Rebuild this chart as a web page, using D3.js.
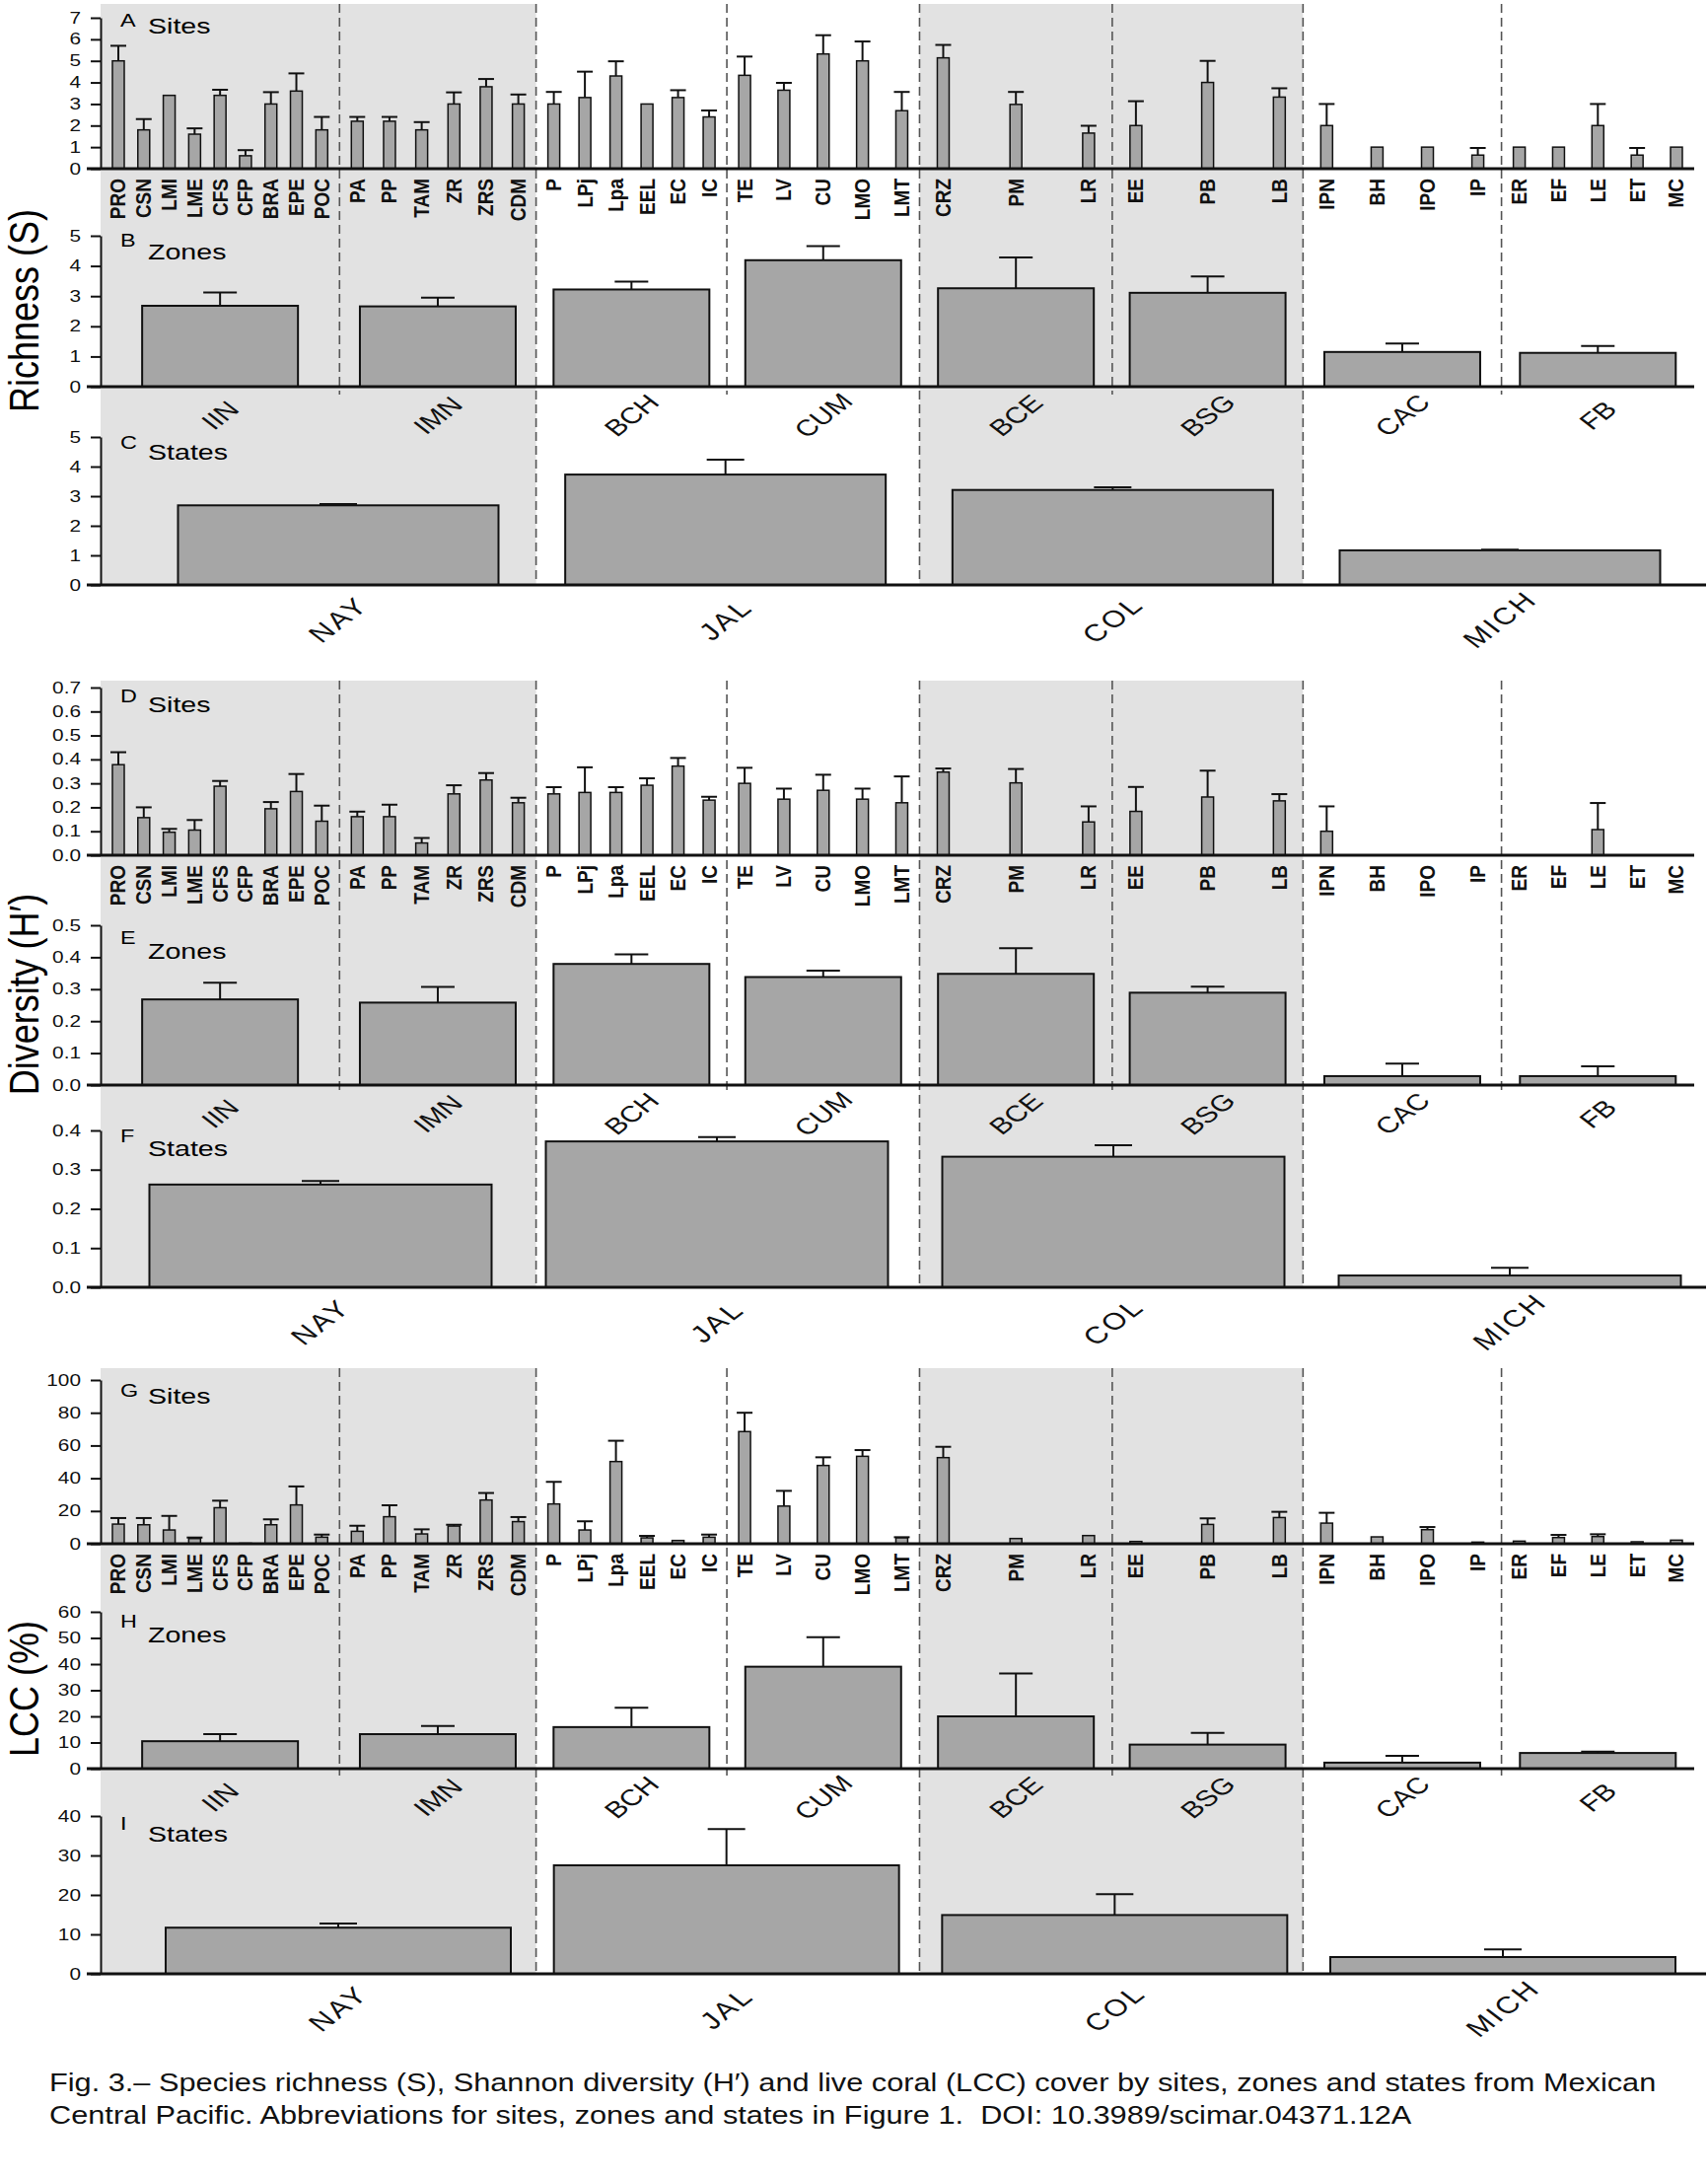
<!DOCTYPE html>
<html>
<head>
<script src="https://cdnjs.cloudflare.com/ajax/libs/d3/7.8.5/d3.min.js"></script>
<style>
  body { margin: 0; background: #fff; }
  svg { display: block; font-family: "Liberation Sans", Arial, sans-serif; }
  .shade { fill: #e2e2e2; }
  .sep { stroke: #555; stroke-width: 1.6; stroke-dasharray: 9,5; }
  .bar { fill: #a6a6a6; stroke: #111; }
  .err { stroke: #111; stroke-width: 2; }
  .base { stroke: #111; stroke-width: 3; }
  .yaxis path, .yaxis line { stroke: #111; stroke-width: 2; }
  .yaxis text {
    font-size: 16px; fill: #111; font-family: "Liberation Sans", Arial, sans-serif;
    transform-box: fill-box; transform-origin: 100% 50%; transform: scaleX(1.3);
  }
  .site-label { font-size: 19px; font-weight: bold; fill: #111; }
  .zone-label { font-size: 23px; fill: #111; }
  .state-label { font-size: 24px; fill: #111; letter-spacing: 2px; }
  .caption { font-size: 25px; fill: #111; white-space: pre; }
</style>
</head>
<body>
<svg width="1732" height="2209"></svg>
<script>
// ---- categories
const zones = ["IIN", "IMN", "BCH", "CUM", "BCE", "BSG", "CAC", "FB"];
const zoneState = ["NAY", "NAY", "JAL", "JAL", "COL", "COL", "MICH", "MICH"];
const states = ["NAY", "JAL", "COL", "MICH"];
const shadedStates = ["NAY", "COL"];

const sites = ["PRO", "CSN", "LMI", "LME", "CFS", "CFP", "BRA", "EPE", "POC",
  "PA", "PP", "TAM", "ZR", "ZRS", "CDM",
  "P", "LPj", "Lpa", "EEL", "EC", "IC",
  "TE", "LV", "CU", "LMO", "LMT",
  "CRZ", "PM", "LR",
  "EE", "PB", "LB",
  "IPN", "BH", "IPO", "IP",
  "ER", "EF", "LE", "ET", "MC"];
const siteZone = ["IIN", "IIN", "IIN", "IIN", "IIN", "IIN", "IIN", "IIN", "IIN",
  "IMN", "IMN", "IMN", "IMN", "IMN", "IMN",
  "BCH", "BCH", "BCH", "BCH", "BCH", "BCH",
  "CUM", "CUM", "CUM", "CUM", "CUM",
  "BCE", "BCE", "BCE",
  "BSG", "BSG", "BSG",
  "CAC", "CAC", "CAC", "CAC",
  "FB", "FB", "FB", "FB", "FB"];

// ---- richness (S)
const richSite = [5.0, 1.8, 3.4, 1.6, 3.4, 0.6, 3.0, 3.6, 1.8,
  2.2, 2.2, 1.8, 3.0, 3.8, 3.0,
  3.0, 3.3, 4.3, 3.0, 3.3, 2.4,
  4.33, 3.64, 5.32, 5.0, 2.69,
  5.14, 2.98, 1.65,
  2.0, 4.0, 3.32,
  2.0, 1.0, 1.0, 0.63,
  1.0, 1.0, 2.0, 0.63, 1.0];
const richSiteErr = [0.7, 0.5, 0, 0.27, 0.26, 0.26, 0.55, 0.82, 0.6,
  0.2, 0.2, 0.36, 0.54, 0.36, 0.44,
  0.56, 1.2, 0.68, 0, 0.34, 0.3,
  0.87, 0.34, 0.87, 0.9, 0.87,
  0.6, 0.58, 0.34,
  1.13, 1.0, 0.41,
  1.0, 0, 0, 0.33,
  0, 0, 1.0, 0.33, 0];
const richZone = [2.68, 2.66, 3.22, 4.19, 3.26, 3.11, 1.15, 1.12];
const richZoneErr = [0.44, 0.29, 0.26, 0.47, 1.02, 0.54, 0.28, 0.23];
const richState = [2.69, 3.73, 3.21, 1.17];
const richStateErr = [0.04, 0.5, 0.09, 0.02];

// ---- Shannon diversity (H')
const divSite = [0.378, 0.157, 0.096, 0.105, 0.288, 0, 0.194, 0.266, 0.142,
  0.161, 0.161, 0.051, 0.256, 0.314, 0.219,
  0.256, 0.262, 0.262, 0.292, 0.372, 0.23,
  0.30, 0.234, 0.271, 0.234, 0.219,
  0.347, 0.302, 0.139,
  0.183, 0.243, 0.227,
  0.10, 0, 0, 0,
  0, 0, 0.107, 0, 0];
const divSiteErr = [0.052, 0.043, 0.014, 0.042, 0.022, 0, 0.028, 0.073, 0.065,
  0.021, 0.05, 0.021, 0.036, 0.029, 0.021,
  0.028, 0.105, 0.022, 0.029, 0.034, 0.014,
  0.065, 0.044, 0.065, 0.044, 0.11,
  0.015, 0.058, 0.065,
  0.102, 0.11, 0.028,
  0.104, 0, 0, 0,
  0, 0, 0.111, 0, 0];
const divZone = [0.268, 0.258, 0.379, 0.338, 0.348, 0.289, 0.028, 0.028];
const divZoneErr = [0.052, 0.049, 0.03, 0.02, 0.08, 0.019, 0.039, 0.031];
const divState = [0.262, 0.372, 0.333, 0.03];
const divStateErr = [0.009, 0.011, 0.029, 0.02];

// ---- live coral cover (%)
const lccSite = [12, 11.6, 8.4, 3.2, 22, 0.3, 11.6, 23.7, 4,
  7.6, 16.5, 6, 10.8, 26.7, 13.5,
  24.3, 8.4, 50.2, 3.6, 2, 4,
  68.5, 23, 47.8, 53.4, 3.6,
  52.6, 3.2, 5,
  1.4, 11.8, 16,
  12.6, 4.2, 8.6, 1,
  1.6, 3.8, 4.4, 1.2, 2.2];
const lccSiteErr = [3.7, 4.1, 8.6, 0.6, 4.3, 0, 3.3, 11.3, 1.6,
  3.4, 7, 2.8, 0.8, 4.3, 2.8,
  13.5, 5.3, 12.7, 1.2, 0, 1.6,
  11.5, 9.3, 5, 3.8, 0.4,
  6.6, 0, 0,
  0, 3.7, 3.5,
  6.3, 0, 1.6, 0,
  0, 1.6, 1.4, 0, 0];
const lccZone = [10.5, 13.2, 15.9, 39, 20, 9.2, 2.3, 6];
const lccZoneErr = [2.7, 3.1, 7.4, 11.3, 16.4, 4.5, 2.6, 0.5];
const lccState = [11.7, 27.5, 14.9, 4.25];
const lccStateErr = [1.05, 9.2, 5.3, 1.95];

// ---- layout
const svg = d3.select("svg");
const zoneUnits = [1.24, 1.02, 0.99, 1.0, 1.0, 0.99, 1.03, 1.0];
const zoneEdges = [0, ...d3.cumsum(zoneUnits)];
const x = d3.scaleLinear().domain([0, d3.sum(zoneUnits)]).range([102, 1718]);
const zoneX0 = i => x(zoneEdges[i]);
const zoneX1 = i => x(zoneEdges[i + 1]);
const zoneCenter = i => (zoneX0(i) + zoneX1(i)) / 2;

// site positions spread inside their zone
const siteX = {};
zones.forEach((z, i) => {
  const names = sites.filter((s, k) => siteZone[k] === z);
  const pad = names.length > 4 ? 18 : 24;
  const sp = d3.scalePoint().domain(names).range([zoneX0(i) + pad, zoneX1(i) - pad]);
  names.forEach(n => siteX[n] = sp(n));
});

const sections = [
  { top: 4, zoneBottom: 400, bottom: 593 },
  { top: 690, zoneBottom: 1108, bottom: 1305 },
  { top: 1387, zoneBottom: 1800, bottom: 2001 }
];

// shading and separators
const bg = svg.append("g");
sections.forEach(sec => {
  shadedStates.forEach(st => {
    const idx = zones.map((z, i) => i).filter(i => zoneState[i] === st);
    bg.append("rect").attr("class", "shade")
      .attr("x", zoneX0(idx[0]))
      .attr("width", zoneX1(idx[idx.length - 1]) - zoneX0(idx[0]))
      .attr("y", sec.top).attr("height", sec.bottom - sec.top);
  });
  for (let i = 1; i < zones.length; i++) {
    const stateBreak = zoneState[i] !== zoneState[i - 1];
    bg.append("line").attr("class", "sep")
      .attr("x1", zoneX0(i)).attr("x2", zoneX0(i))
      .attr("y1", sec.top).attr("y2", stateBreak ? sec.bottom : sec.zoneBottom);
  }
});

const panels = [
  { letter: "A", word: "Sites", level: "site", vals: richSite, errs: richSiteErr,
    y0: 171, y1: 18, max: 7, ticks: d3.range(0, 8), fmt: d3.format("d"), ldy: 9, wdy: 16 },
  { letter: "B", word: "Zones", level: "zone", vals: richZone, errs: richZoneErr,
    y0: 392, y1: 239, max: 5, ticks: d3.range(0, 6), fmt: d3.format("d"), ldy: 11, wdy: 24 },
  { letter: "C", word: "States", level: "state", vals: richState, errs: richStateErr,
    y0: 593, y1: 443, max: 5, ticks: d3.range(0, 6), fmt: d3.format("d"), ldy: 12, wdy: 23,
    sRange: [343, 1521], sWidth: 325 },
  { letter: "D", word: "Sites", level: "site", vals: divSite, errs: divSiteErr,
    y0: 867, y1: 697, max: 0.7, ticks: d3.range(0, 8).map(d => d / 10), fmt: d3.format(".1f"), ldy: 15, wdy: 25 },
  { letter: "E", word: "Zones", level: "zone", vals: divZone, errs: divZoneErr,
    y0: 1100, y1: 938, max: 0.5, ticks: d3.range(0, 6).map(d => d / 10), fmt: d3.format(".1f"), ldy: 19, wdy: 34 },
  { letter: "F", word: "States", level: "state", vals: divState, errs: divStateErr,
    y0: 1305, y1: 1146, max: 0.4, ticks: d3.range(0, 5).map(d => d / 10), fmt: d3.format(".1f"), ldy: 12, wdy: 26,
    sRange: [325, 1531], sWidth: 347 },
  { letter: "G", word: "Sites", level: "site", vals: lccSite, errs: lccSiteErr,
    y0: 1565, y1: 1399, max: 100, ticks: d3.range(0, 101, 20), fmt: d3.format("d"), ldy: 17, wdy: 24 },
  { letter: "H", word: "Zones", level: "zone", vals: lccZone, errs: lccZoneErr,
    y0: 1793, y1: 1634, max: 60, ticks: d3.range(0, 61, 10), fmt: d3.format("d"), ldy: 16, wdy: 31 },
  { letter: "I", word: "States", level: "state", vals: lccState, errs: lccStateErr,
    y0: 2001, y1: 1841, max: 40, ticks: d3.range(0, 41, 10), fmt: d3.format("d"), ldy: 14, wdy: 26,
    sRange: [343, 1524], sWidth: 350 }
];

panels.forEach(p => {
  const g = svg.append("g");
  const y = d3.scaleLinear().domain([0, p.max]).range([p.y0, p.y1]);

  let items;
  if (p.level === "site") {
    items = sites.map((s, i) => ({ name: s, cx: siteX[s], w: 12, cap: 16, v: p.vals[i], e: p.errs[i], sw: 1.5 }));
  } else if (p.level === "zone") {
    items = zones.map((z, i) => ({ name: z, cx: zoneCenter(i), w: 158, cap: 34, v: p.vals[i], e: p.errs[i], sw: 2 }));
  } else {
    const sx = d3.scalePoint().domain(states).range(p.sRange);
    items = states.map((s, i) => ({ name: s, cx: sx(s), w: p.sWidth, cap: 38, v: p.vals[i], e: p.errs[i], sw: 2 }));
  }

  // error bars (upper only)
  items.filter(d => d.e > 0).forEach(d => {
    g.append("line").attr("class", "err")
      .attr("x1", d.cx).attr("x2", d.cx).attr("y1", y(d.v)).attr("y2", y(d.v + d.e));
    g.append("line").attr("class", "err")
      .attr("x1", d.cx - d.cap / 2).attr("x2", d.cx + d.cap / 2)
      .attr("y1", y(d.v + d.e)).attr("y2", y(d.v + d.e));
  });

  g.selectAll("rect.bar").data(items.filter(d => d.v > 0)).join("rect")
    .attr("class", "bar")
    .attr("x", d => d.cx - d.w / 2).attr("width", d => d.w)
    .attr("y", d => y(d.v)).attr("height", d => y(0) - y(d.v))
    .attr("stroke-width", d => d.sw);

  // x baseline
  g.append("line").attr("class", "base")
    .attr("x1", 88).attr("x2", p.level === "state" ? 1730 : 1718)
    .attr("y1", y(0)).attr("y2", y(0));

  // y axis
  g.append("g").attr("class", "yaxis")
    .attr("transform", `translate(${x(0)},0)`)
    .call(d3.axisLeft(y).tickValues(p.ticks).tickFormat(p.fmt).tickSize(10).tickSizeOuter(0).tickPadding(10));

  // category labels
  if (p.level === "site") {
    g.selectAll("text.site-label").data(items).join("text")
      .attr("class", "site-label")
      .attr("text-anchor", "end").attr("dy", "0.35em")
      .attr("transform", d => `translate(${d.cx},${y(0) + 10}) scale(1.12,1) rotate(-90)`)
      .text(d => d.name);
  } else if (p.level === "zone") {
    g.selectAll("text.zone-label").data(items).join("text")
      .attr("class", "zone-label")
      .attr("text-anchor", "middle").attr("dy", "0.35em")
      .attr("transform", d => `translate(${d.cx},${y(0) + 29}) scale(1.3,1) rotate(-45)`)
      .text(d => d.name);
  } else {
    g.selectAll("text.state-label").data(items).join("text")
      .attr("class", "state-label")
      .attr("text-anchor", "middle").attr("dy", "0.35em")
      .attr("transform", d => `translate(${d.cx},${y(0) + 35}) scale(1.3,1) rotate(-45)`)
      .text(d => d.name);
  }

  // panel tag
  g.append("text").attr("font-size", 18)
    .attr("transform", `translate(122,${p.y1 + p.ldy}) scale(1.3,1)`)
    .text(p.letter);
  g.append("text").attr("font-size", 22)
    .attr("transform", `translate(150,${p.y1 + p.wdy}) scale(1.3,1)`)
    .text(p.word);
});

// y titles
const titles = [
  { text: "Richness (S)", cy: 315 },
  { text: "Diversity (H\u2032)", cy: 1008 },
  { text: "LCC (%)", cy: 1712 }
];
svg.append("g").selectAll("text").data(titles).join("text")
  .attr("font-size", 36).attr("text-anchor", "middle")
  .attr("transform", d => `translate(39,${d.cy}) scale(1.2,1) rotate(-90)`)
  .text(d => d.text);

// caption
const captionLines = [
  "Fig. 3.\u2013 Species richness (S), Shannon diversity (H\u2032) and live coral (LCC) cover by sites, zones and states from Mexican",
  "Central Pacific. Abbreviations for sites, zones and states in Figure 1.  DOI: 10.3989/scimar.04371.12A"
];
const cap = svg.append("g").attr("transform", "translate(50,0)");
const capText = cap.selectAll("text").data(captionLines).join("text")
  .attr("class", "caption")
  .attr("x", 0).attr("y", (d, i) => 2120 + i * 33)
  .text(d => d);
const natural = capText.node().getComputedTextLength();
cap.attr("transform", `translate(50,0) scale(${1630 / natural},1)`);
</script>
</body>
</html>
